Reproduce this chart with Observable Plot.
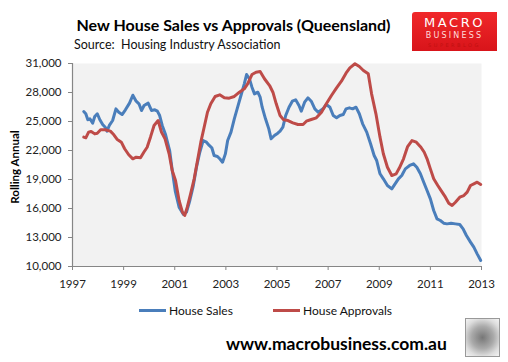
<!DOCTYPE html>
<html>
<head>
<meta charset="utf-8">
<script src="https://cdn.jsdelivr.net/npm/d3@7"></script>
<script src="https://cdn.jsdelivr.net/npm/@observablehq/plot@0.6"></script>
<style>
  html, body { margin: 0; padding: 0; background: #fff; }
  #wrap { position: relative; width: 508px; height: 362px; overflow: hidden; font-family: Lato, "Open Sans", sans-serif; color: #111; }
  #title { position: absolute; left: 0; width: 467px; top: 15px; text-align: center; font-weight: bold; font-size: 16px; color: #000; }
  #subtitle { position: absolute; left: 74px; top: 37px; font-size: 12.5px; color: #111; }
  #logo { position: absolute; left: 412px; top: 12px; width: 85px; height: 39px; background: linear-gradient(180deg, #f0282a 0%, #d8141a 100%); border-radius: 3px 0 0 0; text-align: center; }
  #logo .l1 { position: absolute; left: 0; right: 0; top: 3px; color: #fff; font-size: 13px; letter-spacing: 2.6px; font-family: "DejaVu Sans", sans-serif; }
  #logo .l2 { position: absolute; left: 0; right: 0; top: 19px; color: #ffdcdc; font-size: 8px; letter-spacing: 2.2px; font-family: "DejaVu Sans", sans-serif; }
  #logo .l3 { position: absolute; left: 0; right: 0; top: 30px; color: #c01010; font-size: 5px; letter-spacing: 2.5px; font-family: "DejaVu Sans", sans-serif; }
  #chart { position: absolute; left: 0; top: 55px; }
  #ylab { position: absolute; left: 14px; top: 167px; transform: translate(-50%, -50%) rotate(-90deg); font-weight: bold; font-size: 11.5px; white-space: nowrap; color: #000; }
  #legend { position: absolute; top: 302px; left: 0; width: 508px; height: 16px; font-size: 12px; }
  .li { position: absolute; top: 0; display: flex; align-items: center; height: 16px; white-space: nowrap; }
  .sw { display: inline-block; width: 27px; height: 3px; margin-right: 3px; }
  #footer { position: absolute; left: 226px; top: 333px; font-weight: bold; font-size: 17.5px; color: #000; }
  #wolf { position: absolute; left: 465px; top: 318px; width: 33px; height: 37px; border: 1px solid #999; background: radial-gradient(circle at 50% 50%, #777 0%, #aaa 45%, #ddd 75%, #f4f4f4 100%); }
</style>
</head>
<body>
<div id="wrap">
  <div id="title">New House Sales vs Approvals (Queensland)</div>
  <div id="subtitle">Source:&nbsp; Housing Industry Association</div>
  <div id="logo"><div class="l1">MACRO</div><div class="l2">BUSINESS</div><div class="l3">SUPERBLOG</div></div>
  <div id="chart"></div>
  <div id="ylab">Rolling Annual</div>
  <div id="legend">
    <div class="li" style="left:139px"><span class="sw" style="background:#4a7ebb"></span>House Sales</div>
    <div class="li" style="left:273px"><span class="sw" style="background:#be4b48"></span>House Approvals</div>
  </div>
  <div id="footer">www.macrobusiness.com.au</div>
  <div id="wolf"></div>
</div>
<script>
const xTicks = [1997, 1999, 2001, 2003, 2005, 2007, 2009, 2011, 2013];
const yTicks = [10000, 13000, 16000, 19000, 22000, 25000, 28000, 31000];

const salesYears = [1997.44, 1997.52, 1997.60, 1997.68, 1997.79, 1997.87, 1997.97, 1998.07, 1998.18, 1998.28,
  1998.35, 1998.44, 1998.57, 1998.70, 1998.81, 1998.94, 1999.07, 1999.23, 1999.36, 1999.49,
  1999.60, 1999.70, 1999.80, 1999.96, 2000.09, 2000.22, 2000.32, 2000.41, 2000.51, 2000.64,
  2000.80, 2000.90, 2001.02, 2001.17, 2001.34, 2001.46, 2001.59, 2001.72, 2001.85, 2001.98,
  2002.11, 2002.24, 2002.35, 2002.45, 2002.54, 2002.67, 2002.76, 2002.87, 2002.98, 2003.07,
  2003.20, 2003.33, 2003.46, 2003.59, 2003.72, 2003.81, 2003.92, 2004.02, 2004.12, 2004.25,
  2004.34, 2004.42, 2004.55, 2004.68, 2004.77, 2004.90, 2005.03, 2005.12, 2005.23, 2005.34,
  2005.47, 2005.60, 2005.73, 2005.86, 2005.95, 2006.08, 2006.21, 2006.34, 2006.48, 2006.61,
  2006.80, 2006.93, 2007.07, 2007.20, 2007.33, 2007.46, 2007.59, 2007.70, 2007.83, 2007.96,
  2008.09, 2008.22, 2008.35, 2008.51, 2008.66, 2008.80, 2008.90, 2009.03, 2009.16, 2009.32,
  2009.49, 2009.62, 2009.75, 2009.88, 2010.02, 2010.19, 2010.34, 2010.47, 2010.61, 2010.74,
  2010.87, 2011.00, 2011.13, 2011.26, 2011.39, 2011.52, 2011.65, 2011.81, 2011.98, 2012.15,
  2012.28, 2012.41, 2012.57, 2012.70, 2012.83, 2012.97];
const salesValues = [26030, 25800, 25180, 25280, 24830, 25520, 25800, 25180, 24690, 24410,
  24000, 24590, 25100, 26310, 25960, 25720, 26210, 26900, 27720, 27100,
  26830, 26140, 26660, 26900, 26140, 26210, 26070, 25620, 24590, 23650,
  22000, 20000, 17800, 16140, 15380, 15620, 16830, 18280, 20270, 21820,
  23030, 22860, 22520, 22280, 21480, 21380, 21140, 20790, 21650, 23030,
  23900, 25280, 26480, 27690, 28900, 29860, 29420, 28550, 27860, 28030,
  27520, 26480, 25280, 24240, 23210, 23550, 23790, 24000, 24410, 25620,
  26480, 27100, 27240, 26660, 26070, 27000, 27450, 27100, 26310, 25960,
  26310, 26760, 26480, 25620, 25380, 25620, 25720, 26310, 26410, 26310,
  26480, 25800, 24760, 23900, 22690, 21480, 20960, 19590, 19070, 18380,
  18030, 18550, 19070, 19410, 20100, 20450, 20620, 20270, 19590, 18720,
  17860, 17000, 15790, 14930, 14760, 14480, 14410, 14480, 14410, 14340,
  13900, 13210, 12520, 12000, 11310, 10620];

const approvalsYears = [1997.44, 1997.52, 1997.63, 1997.73, 1997.87, 1997.97, 1998.10, 1998.28, 1998.48, 1998.61,
  1998.74, 1998.91, 1999.04, 1999.20, 1999.36, 1999.49, 1999.66, 1999.79, 1999.92, 2000.05,
  2000.19, 2000.35, 2000.48, 2000.62, 2000.78, 2000.90, 2001.03, 2001.17, 2001.30, 2001.39,
  2001.49, 2001.62, 2001.76, 2001.89, 2002.02, 2002.15, 2002.28, 2002.41, 2002.58, 2002.76,
  2002.94, 2003.13, 2003.33, 2003.53, 2003.72, 2003.85, 2004.02, 2004.18, 2004.34, 2004.51,
  2004.71, 2004.84, 2004.97, 2005.12, 2005.26, 2005.43, 2005.62, 2005.82, 2006.02, 2006.15,
  2006.34, 2006.54, 2006.74, 2006.93, 2007.13, 2007.33, 2007.52, 2007.70, 2007.85, 2008.05,
  2008.22, 2008.38, 2008.57, 2008.70, 2008.87, 2009.03, 2009.16, 2009.32, 2009.49, 2009.66,
  2009.79, 2009.95, 2010.11, 2010.28, 2010.45, 2010.63, 2010.76, 2010.87, 2011.00, 2011.13,
  2011.29, 2011.46, 2011.59, 2011.72, 2011.85, 2011.98, 2012.15, 2012.31, 2012.44, 2012.57,
  2012.70, 2012.83, 2012.97];
const approvalsValues = [23380, 23310, 23900, 23970, 23720, 23790, 24140, 24140, 24000, 23650,
  23170, 22860, 22180, 21560, 21140, 21310, 21240, 21820, 22340, 23380,
  24590, 25100, 23900, 23210, 21660, 19930, 18900, 16830, 15620, 15280,
  16140, 17520, 19070, 20970, 22860, 24410, 25960, 26830, 27590, 27760,
  27450, 27410, 27590, 28030, 28380, 28900, 29860, 30100, 30170, 29420,
  28720, 28030, 26830, 25620, 25170, 25100, 24860, 24690, 24690, 25030,
  25210, 25380, 25960, 26830, 27690, 28480, 29170, 30000, 30550, 30970,
  30690, 30280, 29930, 27860, 25790, 23380, 21660, 20270, 19410, 19580,
  20210, 21140, 22410, 23030, 22860, 22340, 21820, 21140, 20100, 19070,
  18380, 17690, 17170, 16550, 16310, 16650, 17170, 17340, 17690, 18380,
  18550, 18720, 18480];

const sales = salesYears.map((x, i) => ({x, y: salesValues[i]}));
const approvals = approvalsYears.map((x, i) => ({x, y: approvalsValues[i]}));

const chart = Plot.plot({
  width: 508,
  height: 245,
  marginLeft: 72,
  marginRight: 27,
  marginTop: 8,
  marginBottom: 34,
  style: {fontFamily: "Lato, 'Open Sans', sans-serif", fontSize: "11.5px", color: "#222", background: "transparent"},
  x: {domain: [1997, 2013]},
  y: {domain: [10000, 31000]},
  marks: [
    Plot.frame({fill: "#f2f2f2", stroke: null}),
    Plot.axisX({ticks: xTicks, tickFormat: d => String(d), tickSize: 4, tickPadding: 9, stroke: "#868686", label: null}),
    Plot.axisY({ticks: yTicks, tickFormat: d3.format(","), tickSize: 4, tickPadding: 7, stroke: "#868686", label: null}),
    Plot.ruleY([10000], {stroke: "#868686", strokeWidth: 1.2}),
    Plot.ruleX([1997], {stroke: "#868686", strokeWidth: 1.2}),
    Plot.line(sales, {x: "x", y: "y", stroke: "#4a7ebb", strokeWidth: 3, curve: "linear"}),
    Plot.line(approvals, {x: "x", y: "y", stroke: "#be4b48", strokeWidth: 3, curve: "linear"})
  ]
});
document.getElementById("chart").appendChild(chart);
</script>
</body>
</html>
